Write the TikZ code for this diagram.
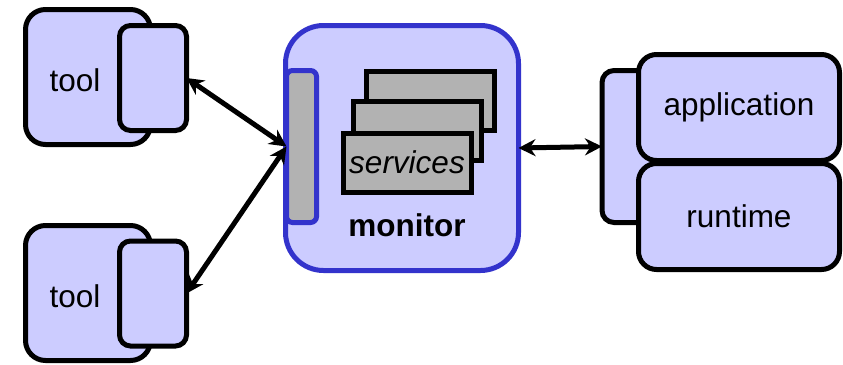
\documentclass[tikz,border=0pt]{standalone}
\usepackage{fontspec}
\setmainfont{Liberation Sans}
\usetikzlibrary{arrows.meta}
\definecolor{boxfill}{HTML}{CCCCFF}
\definecolor{monblue}{HTML}{3333CC}
\definecolor{svcgray}{HTML}{B2B2B2}
\begin{document}
\begin{tikzpicture}[x=1pt,y=-1pt,
  every node/.style={inner sep=0pt, outer sep=0pt},
  lbl/.style={font=\fontsize{31.5}{36}\selectfont},
  toolbox/.style={draw=black, line width=5pt, fill=boxfill, rounded corners=20pt},
  toolinner/.style={draw=black, line width=5pt, fill=boxfill, rounded corners=11pt},
  appbox/.style={draw=black, line width=5pt, fill=boxfill, rounded corners=18pt},
  svc/.style={draw=black, line width=5pt, fill=svcgray, minimum width=128pt, minimum height=59pt},
  link/.style={line width=5pt, {Stealth[length=17pt,width=17pt]}-{Stealth[length=17pt,width=17pt]}}
]
\useasboundingbox (0,0) rectangle (843,364);

% tools on the left
\node[toolbox, minimum width=125pt, minimum height=135pt] (tool1) at (88,77) {};
\node[toolinner, minimum width=67pt, minimum height=105pt] (tool1in) at (153,78) {};
\node[lbl] (tool1lbl) at (75,80) {tool};

\node[toolbox, minimum width=125pt, minimum height=135pt] (tool2) at (88,293) {};
\node[toolinner, minimum width=67pt, minimum height=105pt] (tool2in) at (153,293.5) {};
\node[lbl] (tool2lbl) at (75,296) {tool};

% monitor
\node[draw=monblue, line width=5pt, fill=boxfill, rounded corners=38pt,
      minimum width=233pt, minimum height=245pt] (monitor) at (402,148) {};
\node[draw=monblue, line width=5pt, fill=svcgray, rounded corners=6pt,
      minimum width=30pt, minimum height=152pt] (bar) at (301.5,146.5) {};
\node[svc] (svc3) at (430.5,100.5) {};
\node[svc] (svc2) at (417.5,131) {};
\node[svc, lbl, font=\fontsize{31.5}{36}\selectfont\itshape] (svc1) at (407,162.5) {services};
\node[lbl, font=\fontsize{31.5}{36}\selectfont\bfseries] (monlbl) at (407,225) {monitor};

% application and runtime
\node[appbox, rounded corners=12pt, minimum width=60pt, minimum height=152pt] (stack) at (632,146.5) {};
\node[appbox, lbl, minimum width=201pt, minimum height=106pt] (app) at (739,107.5) {application};
\node[appbox, lbl, minimum width=201pt, minimum height=106pt] (rt) at (739,216.5) {runtime};

% connectors
\draw[link] (tool1in.east) -- (bar.west);
\draw[link] (tool2in.east) -- (bar.west);
\draw[link] (monitor.east) -- (stack.west);
\end{tikzpicture}
\end{document}
